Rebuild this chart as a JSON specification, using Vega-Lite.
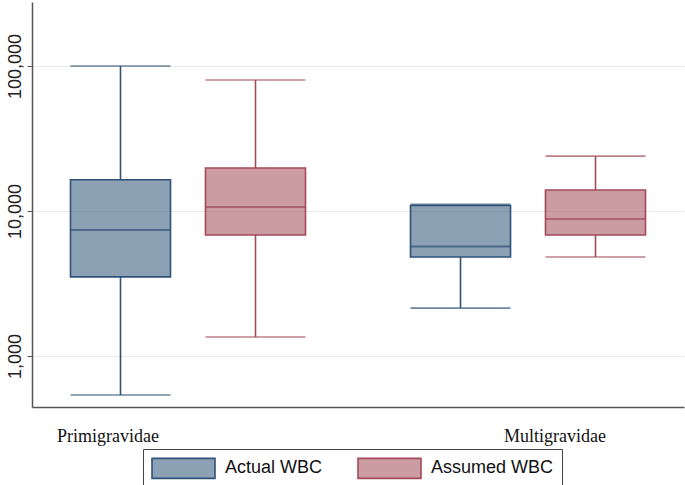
{
  "$schema": "https://vega.github.io/schema/vega-lite/v6.json",
  "width": 652,
  "height": 405,
  "padding": {"left": 32, "top": 2, "right": 1, "bottom": 78},
  "autosize": {"type": "none"},
  "background": "white",
  "data": {"values": [
    {"group": "Primigravidae", "series": "Actual WBC", "lower": 538, "q1": 3510, "median": 7400, "q3": 16400, "upper": 100000},
    {"group": "Primigravidae", "series": "Assumed WBC", "lower": 1353, "q1": 6830, "median": 10650, "q3": 19800, "upper": 80000},
    {"group": "Multigravidae", "series": "Actual WBC", "lower": 2140, "q1": 4820, "median": 5700, "q3": 10900, "upper": 11100},
    {"group": "Multigravidae", "series": "Assumed WBC", "lower": 4820, "q1": 6830, "median": 8810, "q3": 13950, "upper": 23900}
  ]},
  "encoding": {
    "x": {"field": "group", "type": "nominal", "sort": ["Primigravidae", "Multigravidae"],
      "scale": {"paddingInner": 0.2, "paddingOuter": 0.0588},
      "axis": {"title": null, "labelAngle": 0, "ticks": false, "domain": true, "domainColor": "#555555", "domainWidth": 1.5,
        "labelFont": "Liberation Serif", "labelFontSize": 18, "labelColor": "#111111", "labelPadding": 20,
        "labelOffset": {"condition": {"test": "datum.value == 'Primigravidae'", "value": -80}, "value": 27}}},
    "xOffset": {"field": "series", "type": "nominal", "scale": {"paddingInner": 0.259, "paddingOuter": 0.137}},
    "color": {"field": "series", "type": "nominal",
      "scale": {"domain": ["Actual WBC", "Assumed WBC"], "range": ["#2f5378", "#a34a58"]},
      "legend": {"title": null, "orient": "none", "legendX": 111, "legendY": 447, "direction": "horizontal",
        "strokeColor": "#444444", "padding": 8, "columnPadding": 31,
        "symbolType": "M-1,-1H5.3V1H-1Z", "symbolSize": 400, "symbolStrokeWidth": 1.6,
        "labelFont": "Liberation Sans", "labelFontSize": 18, "labelColor": "#111111", "labelOffset": 52,
        "encode": {"symbols": {"update": {
          "fill": {"field": "value", "scale": "color"},
          "stroke": {"field": "value", "scale": "color"},
          "fillOpacity": {"value": 0.55},
          "strokeOpacity": {"value": 1}}}}}
    }
  },
  "layer": [
    {"mark": {"type": "rule", "strokeWidth": 1.6},
     "encoding": {"y": {"field": "q3", "type": "quantitative",
        "scale": {"type": "log", "domain": [445, 276000], "nice": false},
        "axis": {"title": null, "values": [1000, 10000, 100000], "format": ",d", "labelAngle": 270, "labelAlign": "center", "labelBaseline": "bottom",
          "labelFont": "Liberation Sans", "labelFontSize": 18, "labelColor": "#222222", "labelPadding": 3,
          "tickSize": 5, "tickColor": "#555555", "domainColor": "#555555", "domainWidth": 1.5,
          "grid": true, "gridColor": "#e8e8e8", "gridWidth": 1.2}},
       "y2": {"field": "upper"}}},
    {"mark": {"type": "rule", "strokeWidth": 1.6},
     "encoding": {"y": {"field": "lower", "type": "quantitative"}, "y2": {"field": "q1"}}},
    {"mark": {"type": "bar", "fillOpacity": 0.55, "strokeWidth": 0},
     "encoding": {"y": {"field": "q1", "type": "quantitative"}, "y2": {"field": "q3"}}},
    {"mark": {"type": "bar", "filled": false, "strokeWidth": 1.6},
     "encoding": {"y": {"field": "q1", "type": "quantitative"}, "y2": {"field": "q3"}}},
    {"mark": {"type": "tick", "thickness": 2, "size": 100},
     "encoding": {"y": {"field": "median", "type": "quantitative"}}},
    {"mark": {"type": "tick", "thickness": 1.6, "size": 100},
     "encoding": {"y": {"field": "upper", "type": "quantitative"}}},
    {"mark": {"type": "tick", "thickness": 1.6, "size": 100},
     "encoding": {"y": {"field": "lower", "type": "quantitative"}}}
  ],
  "config": {"view": {"stroke": null}}
}
